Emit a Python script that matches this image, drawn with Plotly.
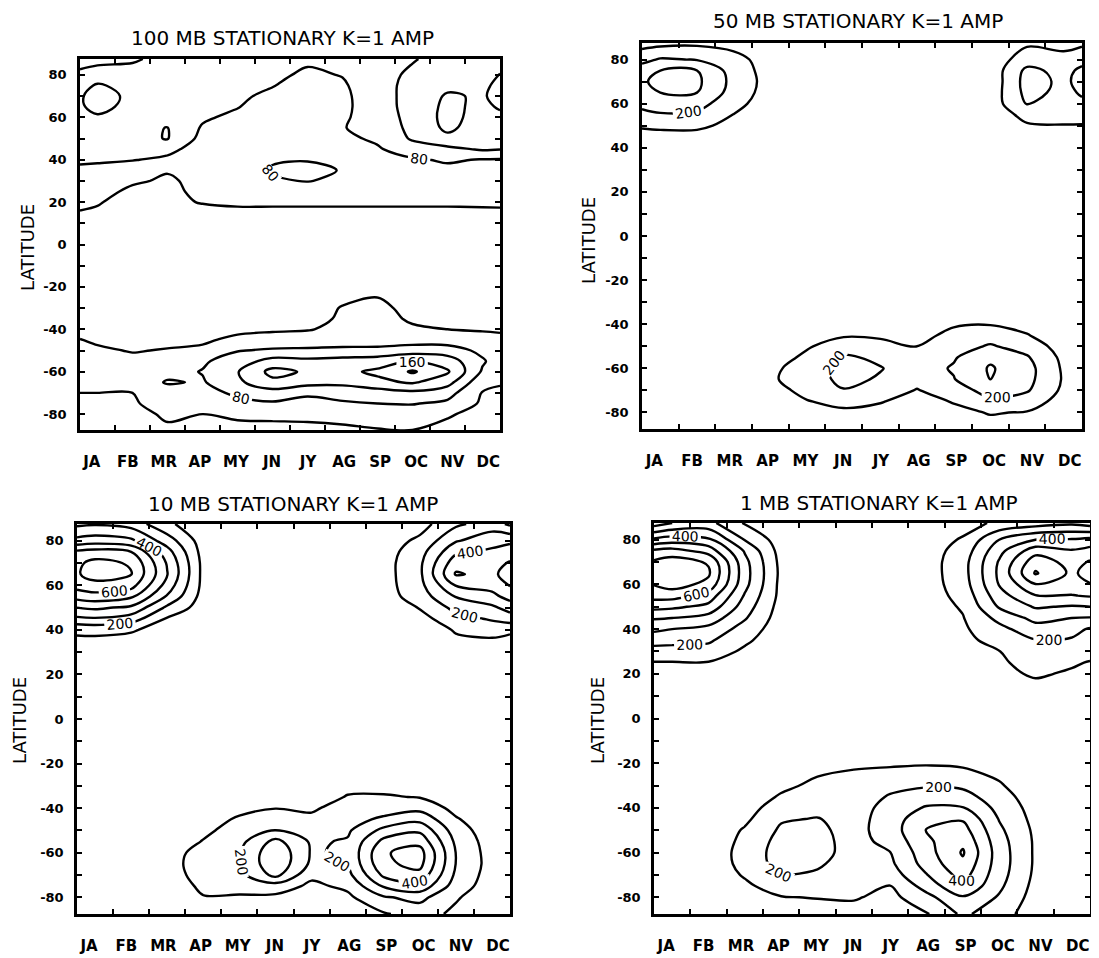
import plotly.graph_objects as go

MONTHS = ["JA", "FB", "MR", "AP", "MY", "JN", "JY", "AG", "SP", "OC", "NV", "DC"]
# time axis: start of January, month centres, end of December
TIME = [0, 0.5, 1.5, 2.5, 3.5, 4.5, 5.5, 6.5, 7.5, 8.5, 9.5, 10.5, 11.5, 12]
LATS = [-87.5, -80, -75, -70, -65, -60, -55, -50, -45, -40, -35, -30, -20, 0,
        20, 25, 30, 35, 40, 45, 50, 55, 60, 65, 70, 75, 80, 87.5]

# each inner list: latitude profile (south -> north) at one time of TIME
AMP_100MB = [
    [20,28,35,40,48,55,55,50,41,30,25,20,18,20, 45,52,62,74,85,95,100,105,110,115,115,105,88,65],
    [20,28,35,40,50,55,55,45,35,28,22,20,18,20, 42,50,60,72,84,95,100,105,115,132,138,125,95,70],
    [22,30,36,40,52,58,48,38,30,25,22,20,18,15, 30,34,44,60,82,95,108,110,105,108,110,105,95,75],
    [35,45,55,60,84,66,52,42,32,25,22,20,18,15, 36,36,36,42,72,92,122,121,100,95,92,85,90,92],
    [35,40,55,65,76,82,74,45,36,30,25,22,18,15, 41,44,48,52,55,60,68,76,86,92,95,95,95,95],
    [32,45,68,88,112,118,100,78,46,34,30,25,18,15, 43,50,58,62,65,62,60,62,70,82,88,90,92,92],
    [30,48,75,102,150,172,135,86,52,36,30,25,20,15, 43,52,75,84,76,65,58,55,55,58,70,82,90,92],
    [30,50,70,85,135,155,130,88,55,38,30,25,20,15, 43,52,82,90,78,66,60,55,52,50,52,60,72,88],
    [32,55,75,95,130,150,135,90,60,48,44,42,25,15, 43,50,70,78,70,66,72,78,74,70,70,74,82,88],
    [38,60,80,100,150,168,140,92,58,48,45,45,35,15, 43,50,56,62,68,76,86,95,100,105,108,110,110,105],
    [40,62,82,110,165,205,162,100,62,42,38,34,22,15, 43,50,55,62,76,100,125,130,132,132,130,128,125,118],
    [30,44,72,95,135,165,140,100,60,40,32,28,20,15, 43,50,55,72,84,110,150,168,172,170,165,150,140,130],
    [20,28,34,38,50,75,85,70,48,38,30,25,18,18, 43,50,55,62,78,125,135,140,145,150,155,150,140,130],
    [20,28,34,38,41,55,60,55,44,38,30,25,18,20, 43,50,56,62,77,122,130,140,150,165,175,172,162,140],
]

AMP_50MB = [
    [10,10,12,15,18,20,20,18,15,12,10,10,10,15, 20,20,22,25,40,70,110,170,230,270,290,250,170,60],
    [10,10,12,15,18,20,20,18,15,12,10,10,10,15, 20,20,22,25,45,75,115,190,250,300,320,300,210,70],
    [10,10,12,15,18,20,20,18,15,12,10,10,10,15, 20,20,22,25,45,75,115,180,240,300,320,300,195,80],
    [10,15,25,35,45,45,35,25,18,12,10,10,10,15, 15,15,18,20,30,60,80,98,130,160,170,160,130,70],
    [10,20,40,60,85,75,50,30,20,15,12,10,10,15, 10,10,12,15,20,30,40,50,50,55,60,55,60,40],
    [30,70,95,130,150,150,120,90,50,30,20,15,12,15, 10,10,12,15,18,20,25,30,35,40,40,40,40,35],
    [50,80,130,195,225,235,215,150,90,50,30,20,12,15, 10,10,12,15,18,20,25,30,35,40,40,40,40,35],
    [40,75,105,150,190,205,180,130,85,50,30,20,12,15, 10,10,12,15,18,20,25,30,35,40,40,40,40,35],
    [20,40,70,95,130,150,130,98,70,45,30,20,12,15, 10,10,12,15,18,20,25,30,35,40,40,40,40,35],
    [40,80,105,150,195,210,190,160,125,90,55,30,15,15, 10,10,12,15,18,20,25,30,35,40,40,40,40,35],
    [70,105,180,240,300,310,280,210,160,95,60,40,15,15, 10,10,12,15,20,25,35,40,45,40,30,35,40,30],
    [60,95,150,210,230,235,210,160,105,70,45,30,15,15, 15,15,18,20,30,55,90,130,205,230,240,225,150,85],
    [20,40,60,80,90,85,75,55,40,25,15,12,10,15, 15,15,18,20,35,70,95,140,160,175,180,170,130,70],
    [10,20,30,40,45,45,40,30,20,15,12,10,10,15, 15,15,18,20,40,70,92,150,185,210,230,220,170,80],
]

AMP_10MB = [
    [5,5,5,8,10,10,10,8,8,5,5,5,5,5, 20,25,40,80,120,280,400,540,640,690,680,620,430,280],
    [5,5,5,8,10,10,10,8,8,5,5,5,5,5, 20,25,40,75,130,290,420,560,670,740,730,640,450,290],
    [5,5,5,8,10,10,10,8,8,5,5,5,5,5, 15,20,35,70,110,250,380,520,640,705,690,600,420,260],
    [10,20,40,55,60,55,40,30,20,15,12,10,8,5, 5,8,10,30,60,90,180,290,360,405,390,340,250,120],
    [60,95,120,140,150,140,105,80,50,30,20,15,10,5, 5,5,5,10,20,30,50,60,70,70,70,60,50,30],
    [50,90,130,170,195,190,170,140,115,70,45,25,15,5, 5,5,5,8,15,20,25,30,35,35,35,30,30,25],
    [60,80,150,330,380,380,330,205,140,98,60,30,15,5, 5,5,5,8,15,20,25,30,35,35,35,30,30,25],
    [30,50,80,120,180,190,185,150,115,90,60,30,15,5, 5,5,5,8,15,20,25,30,35,35,35,30,30,25],
    [40,80,120,170,205,215,210,185,160,130,105,80,25,5, 5,5,8,10,20,25,35,40,45,50,50,45,40,35],
    [90,190,310,420,480,490,430,330,220,150,110,70,25,5, 5,5,8,10,30,40,50,55,60,60,60,55,50,40],
    [140,230,370,470,530,540,470,380,270,170,95,70,25,5, 5,5,10,15,30,60,105,150,170,180,180,160,120,60],
    [80,110,150,180,198,198,180,150,110,70,45,30,15,5, 10,30,60,80,110,170,230,305,405,510,460,380,290,180],
    [30,40,50,55,60,55,50,40,30,25,15,10,8,5, 10,25,50,80,150,210,280,370,440,470,460,420,360,250],
    [5,10,15,20,20,20,15,15,10,8,5,5,5,5, 10,20,40,70,120,250,340,440,505,560,510,450,380,180],
]

AMP_1MB = [
    [5,5,5,5,5,5,5,5,5,5,5,5,5,10, 40,95,160,240,320,410,530,640,705,730,715,620,420,150],
    [5,5,5,5,5,5,5,5,5,5,5,5,5,10, 40,95,160,230,300,400,520,640,745,780,750,640,450,200],
    [10,20,30,35,40,40,35,30,25,20,18,15,10,10, 40,95,160,215,270,360,470,560,670,715,690,560,420,230],
    [20,50,80,110,130,135,125,110,80,60,45,30,15,10, 20,50,80,120,160,210,250,290,330,340,330,290,195,90],
    [50,95,150,205,240,245,235,215,190,150,110,80,30,10, 5,10,20,30,40,50,60,70,70,75,70,60,50,30],
    [50,105,140,185,215,235,230,220,205,170,145,120,70,20, 5,8,10,12,15,20,25,30,30,30,30,30,30,25],
    [60,110,130,140,150,160,165,165,160,150,140,125,90,20, 5,8,10,12,15,20,25,30,30,30,30,30,30,25],
    [40,70,98,150,180,198,230,250,250,240,210,170,85,20, 5,8,10,12,15,20,25,30,30,30,30,30,30,25],
    [90,170,240,295,340,360,380,405,370,310,250,190,90,20, 20,25,30,35,40,45,50,55,55,55,55,55,50,40],
    [220,290,390,440,480,510,480,440,390,305,240,180,80,20, 40,50,60,70,85,95,110,130,150,160,160,140,110,60],
    [140,190,220,240,250,250,240,220,195,170,140,110,60,20, 80,90,98,140,170,230,310,360,405,420,410,370,300,120],
    [50,60,70,80,85,85,85,80,70,60,50,40,25,10, 110,125,140,195,260,330,410,495,595,710,660,560,400,150],
    [10,15,20,25,25,25,25,20,20,15,15,10,10,10, 90,110,150,190,230,300,390,495,560,580,560,510,410,180],
    [10,15,20,25,25,25,25,20,20,15,15,10,10,10, 60,95,130,160,190,295,398,510,595,640,610,540,430,150],
]

TITLES = ["100 MB STATIONARY K=1 AMP", "50 MB STATIONARY K=1 AMP",
          "10 MB STATIONARY K=1 AMP", "1 MB STATIONARY K=1 AMP"]

# the page body has an 8px margin, so the figure is drawn 8px smaller and shifted
OFF = 8
W, H = 1099 - OFF, 958 - OFF
FONT = "DejaVu Sans"


def transpose(cols):
    return [list(r) for r in zip(*cols)]


# (data, plain levels (start,end,size), labelled levels (start,end,size))
PANELS = [
    (AMP_100MB, (40, 200, 80), (80, 160, 80)),
    (AMP_50MB, (100, 300, 200), (200, 200, 100)),
    (AMP_10MB, (100, 700, 200), (200, 600, 200)),
    (AMP_1MB, (100, 700, 200), (200, 600, 200)),
]
# plot frames in page pixels: left, right, top, bottom
FRAMES = [(80, 500, 59, 430), (642, 1082, 43, 429), (77, 510, 524, 914), (654, 1090, 523, 914)]
TITLE_POS = [(282, 38), (858, 21), (293, 504), (879, 503)]
YTITLE_POS = [(27, 248), (588, 241), (19, 721), (597, 721)]


def px(x):
    return (x - OFF) / W


def py(y):
    return 1 - (y - OFF) / H


BLACK = [[0, "black"], [1, "black"]]
fig = go.Figure()
for i, (data, plain, lab) in enumerate(PANELS):
    z = transpose(data)
    xa = "x" if i == 0 else f"x{i+1}"
    ya = "y" if i == 0 else f"y{i+1}"
    for lev, show in ((plain, False), (lab, True)):
        fig.add_trace(go.Contour(
            x=TIME, y=LATS, z=z, xaxis=xa, yaxis=ya,
            autocontour=False,
            contours=dict(start=lev[0], end=lev[1], size=lev[2], coloring="lines",
                          showlabels=show,
                          labelfont=dict(family=FONT, size=14, color="black")),
            colorscale=BLACK, showscale=False,
            line=dict(width=2.4, smoothing=1.0),
            hoverinfo="skip",
        ))

label_pos = [6 + (k + 0.5 - 6) * 1.03 for k in range(12)]
ytick_vals = list(range(-80, 81, 10))
ytick_text = [str(v) if v % 20 == 0 else "" for v in ytick_vals]

layout = dict(width=W, height=H, margin=dict(l=0, r=0, t=0, b=0, autoexpand=False),
              paper_bgcolor="white", plot_bgcolor="white", showlegend=False)
annotations = []
for i, (l, r, t, b) in enumerate(FRAMES):
    sx = "" if i == 0 else str(i + 1)
    layout["xaxis" + sx] = dict(
        domain=[px(l), px(r)], anchor="y" + sx, range=[0, 12],
        showline=True, linecolor="black", linewidth=2.5, mirror="allticks",
        showgrid=False, zeroline=False,
        tickmode="array", tickvals=label_pos, ticktext=MONTHS, ticks="",
        tickfont=dict(family=FONT, size=15, color="black", weight="bold"),
        ticklabelstandoff=16,
        minor=dict(tickmode="array", tickvals=list(range(1, 12)), ticks="inside",
                   ticklen=5, tickwidth=1.5, tickcolor="black", showgrid=False),
    )
    layout["yaxis" + sx] = dict(
        domain=[py(b), py(t)], anchor="x" + sx, range=[-87.5, 87.5],
        showline=True, linecolor="black", linewidth=2.5, mirror="allticks",
        showgrid=False, zeroline=False,
        tickmode="array", tickvals=ytick_vals, ticktext=ytick_text,
        ticks="inside", ticklen=5, tickwidth=1.5, tickcolor="black",
        tickfont=dict(family=FONT, size=13, color="black", weight="bold"),
        ticklabelstandoff=8,
    )
    tx, ty = TITLE_POS[i]
    annotations.append(dict(text=TITLES[i], x=px(tx), y=py(ty), xref="paper", yref="paper",
                            xanchor="center", yanchor="middle", showarrow=False,
                            font=dict(family=FONT, size=20, color="black")))
    lx, ly = YTITLE_POS[i]
    annotations.append(dict(text="LATITUDE", x=px(lx), y=py(ly), xref="paper", yref="paper",
                            xanchor="center", yanchor="middle", showarrow=False, textangle=-90,
                            font=dict(family=FONT, size=18, color="black")))
layout["annotations"] = annotations
fig.update_layout(**layout)
fig.write_html("out.html")
